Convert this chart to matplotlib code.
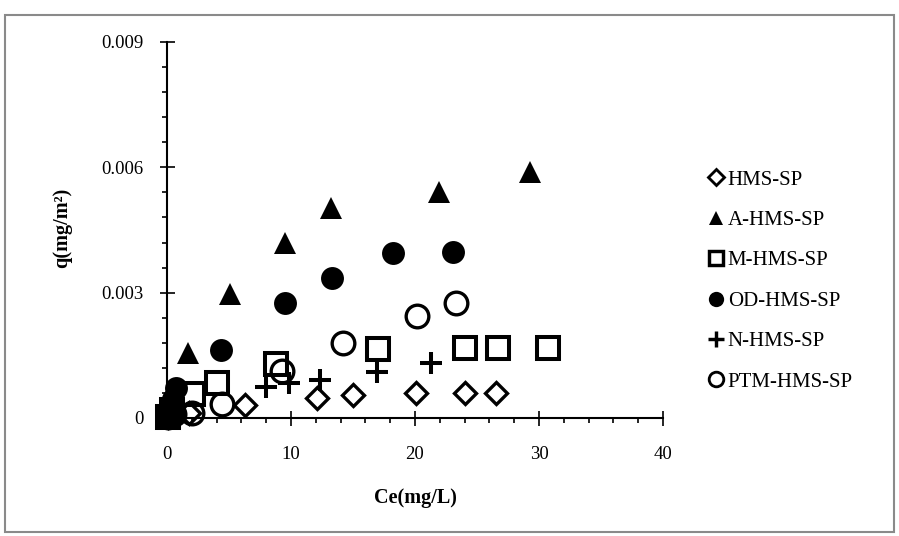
import matplotlib
matplotlib.use('Agg')
import matplotlib.pyplot as plt
from matplotlib.lines import Line2D
from matplotlib.patches import Rectangle
from matplotlib.ticker import MultipleLocator

# ---- data ----
hms_x = [0.1, 0.5, 1.8, 6.3, 12.1, 15.0, 20.1, 24.0, 26.5]
hms_y = [0.00002, 0.00008, 0.00013, 0.00031, 0.00048, 0.00055, 0.0006, 0.0006, 0.0006]

a_x = [0.05, 0.2, 0.5, 1.7, 5.1, 9.5, 13.2, 21.9, 29.3]
a_y = [0.00005, 0.0002, 0.0004, 0.00155, 0.00296, 0.0042, 0.00502, 0.0054, 0.00588]

m_x = [0.05, 0.4, 2.1, 4.0, 8.8, 17.0, 24.0, 26.7, 30.7]
m_y = [0.00003, 0.0002, 0.00058, 0.00084, 0.0013, 0.00166, 0.00168, 0.00168, 0.00168]

od_x = [0.02, 0.1, 0.25, 0.45, 0.7, 4.35, 9.5, 13.3, 18.2, 23.1]
od_y = [0.00003, 0.00015, 0.0003, 0.00045, 0.00072, 0.00163, 0.00276, 0.00334, 0.00396, 0.00398]

n_x = [0.1, 0.5, 8.0, 9.8, 12.3, 16.9, 21.3]
n_y = [0.00005, 0.0002, 0.00075, 0.00083, 0.00091, 0.0011, 0.00132]

ptm_x = [0.1, 0.6, 2.0, 4.4, 9.3, 14.2, 20.2, 23.3]
ptm_y = [0.00003, 0.0001, 0.00012, 0.00033, 0.00112, 0.0018, 0.00245, 0.00276]

labels = ['HMS-SP', 'A-HMS-SP', 'M-HMS-SP', 'OD-HMS-SP', 'N-HMS-SP', 'PTM-HMS-SP']
x_ticks = [0, 10, 20, 30, 40]
y_ticks = [0, 0.003, 0.006, 0.009]
y_tick_labels = ['0', '0.003', '0.006', '0.009']

FONT = 'Liberation Serif'
W, H = 899, 536

fig = plt.figure(figsize=(W / 100, H / 100), dpi=100)
ax = fig.add_axes([167 / W, 1 - 418 / H, (663 - 167) / W, (418 - 42) / H])

styles = [
    dict(marker='D', ms=11.5, mfc='none', mec='black', mew=2.4),
    dict(marker='^', ms=16.5, mfc='black', mec='black', mew=0),
    dict(marker='s', ms=15.8, mfc='none', mec='black', mew=2.9),
    dict(marker='o', ms=16.5, mfc='black', mec='black', mew=0),
    dict(marker='+', ms=16.5, mfc='black', mec='black', mew=2.9),
    dict(marker='o', ms=16.3, mfc='none', mec='black', mew=2.4),
]
data = [(hms_x, hms_y), (a_x, a_y), (m_x, m_y), (od_x, od_y), (n_x, n_y), (ptm_x, ptm_y)]

for (xs, ys), st in zip(data, styles):
    ax.plot(xs, ys, linestyle='none', clip_on=False, zorder=3, **st)

ax.set_xlim(0, 40)
ax.set_ylim(0, 0.009)
ax.set_xticks(x_ticks)
ax.set_xticklabels([str(v) for v in x_ticks])
ax.set_yticks(y_ticks)
ax.set_yticklabels(y_tick_labels)
ax.xaxis.set_minor_locator(MultipleLocator(2))
ax.yaxis.set_minor_locator(MultipleLocator(0.0006))

for s in ('top', 'right'):
    ax.spines[s].set_visible(False)
for s in ('left', 'bottom'):
    ax.spines[s].set_linewidth(1.5)

ax.tick_params(axis='x', which='major', direction='inout', length=10.8, width=1.2, pad=15)
ax.tick_params(axis='y', which='major', direction='inout', length=10.8, width=1.2, pad=11.5)
ax.tick_params(which='minor', direction='out', length=3.8, width=1.2)
for lab in ax.get_xticklabels() + ax.get_yticklabels():
    lab.set_fontfamily(FONT)
    lab.set_fontsize(13.5)

fig.text(415 / W, 1 - 498 / H, 'Ce(mg/L)', ha='center', va='center',
         fontfamily=FONT, fontweight='bold', fontsize=14.5)
fig.text(62 / W, 1 - 228 / H, 'q(mg/m²)', ha='center', va='center', rotation=90,
         fontfamily=FONT, fontweight='bold', fontsize=14.5)

# legend
leg_sizes = [8, 10, 10.5, 11, 11, 10.5]
handles = []
for st, sz in zip(styles, leg_sizes):
    st2 = dict(st)
    st2['ms'] = sz
    if st2['mew']:
        st2['mew'] = st2['mew'] * 0.85
    handles.append(Line2D([], [], linestyle='none', **st2))
leg = fig.legend(handles, labels, loc='upper left', bbox_to_anchor=(708 / W, 1 - 170 / H),
                 frameon=False, borderpad=0, borderaxespad=0, handlelength=0.8,
                 handletextpad=0.15, labelspacing=1.0,
                 prop={'family': FONT, 'size': 15})

# figure border
fig.patches.append(Rectangle((5 / W, 1 - 532 / H), (894 - 5) / W, (532 - 15) / H,
                             transform=fig.transFigure, fill=False,
                             edgecolor='#8a8a8a', linewidth=1.5))

fig.savefig('out.png', dpi=100)
